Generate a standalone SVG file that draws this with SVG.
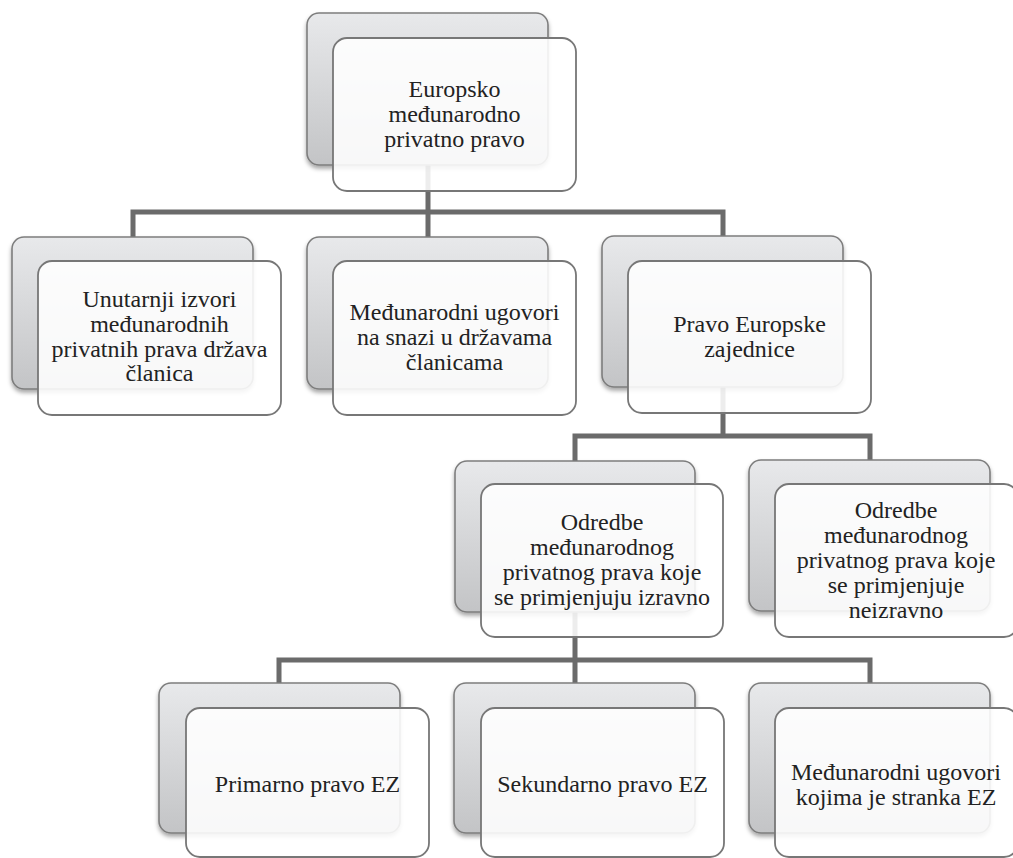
<svg xmlns="http://www.w3.org/2000/svg" width="1013" height="858" viewBox="0 0 1013 858">
<style>
.back{fill:url(#gBack);stroke:#7d7d7d;stroke-width:1.6;filter:url(#sh)}
.front{fill:#ffffff;fill-opacity:0.88;stroke:#777;stroke-width:1.8}
.t{font-size:24px;fill:#222;text-anchor:middle}
.c{fill:none;stroke:#6b6b6b;stroke-width:5;stroke-linejoin:miter;stroke-linecap:butt}
</style>
<defs>
<linearGradient id="gBack" x1="0" y1="0" x2="0" y2="1">
<stop offset="0" stop-color="#e8e9eb"/>
<stop offset="1" stop-color="#c3c4c6"/>
</linearGradient>
<filter id="sh" x="-10%" y="-10%" width="120%" height="130%">
<feDropShadow dx="0" dy="3" stdDeviation="2" flood-color="#000" flood-opacity="0.35"/>
</filter>
</defs>
<rect width="1013" height="858" fill="#fff"/>
<g id="connectors">
<path class="c" d="M428,165 V212 M133,237 V212 H723 V237 M428,212 V237"/>
<path class="c" d="M723,387 V436 M575,461 V436 H870 V460"/>
<path class="c" d="M575,612 V660 M279,683 V660 H870 V683 M575,660 V683"/>
</g>
<g id="nodes" font-family="Liberation Serif">
<g id="n1">
<rect class="back" x="307" y="13" width="241" height="152" rx="12"/>
<rect class="front" x="333" y="38" width="243" height="153" rx="14"/>
<text class="t" x="454.5" y="97">Europsko</text>
<text class="t" x="454.5" y="122">međunarodno</text>
<text class="t" x="454.5" y="147">privatno pravo</text>
</g>
<g id="n2">
<rect class="back" x="12" y="237" width="241" height="152" rx="12"/>
<rect class="front" x="38" y="261" width="243" height="154" rx="14"/>
<text class="t" x="159.5" y="307">Unutarnji izvori</text>
<text class="t" x="159.5" y="332">međunarodnih</text>
<text class="t" x="159.5" y="357">privatnih prava država</text>
<text class="t" x="159.5" y="381">članica</text>
</g>
<g id="n3">
<rect class="back" x="307" y="237" width="241" height="152" rx="12"/>
<rect class="front" x="333" y="261" width="243" height="154" rx="14"/>
<text class="t" x="454.5" y="320">Međunarodni ugovori</text>
<text class="t" x="454.5" y="345">na snazi u državama</text>
<text class="t" x="454.5" y="370">članicama</text>
</g>
<g id="n4">
<rect class="back" x="602" y="236" width="241" height="151" rx="12"/>
<rect class="front" x="628" y="261" width="243" height="152" rx="14"/>
<text class="t" x="749.5" y="332">Pravo Europske</text>
<text class="t" x="749.5" y="357">zajednice</text>
</g>
<g id="n5">
<rect class="back" x="455" y="461" width="240" height="151" rx="12"/>
<rect class="front" x="481" y="484" width="242" height="153" rx="14"/>
<text class="t" x="602" y="530">Odredbe</text>
<text class="t" x="602" y="555">međunarodnog</text>
<text class="t" x="602" y="580">privatnog prava koje</text>
<text class="t" x="602" y="605">se primjenjuju izravno</text>
</g>
<g id="n6">
<rect class="back" x="749" y="460" width="241" height="151" rx="12"/>
<rect class="front" x="775" y="484" width="243" height="153" rx="14"/>
<text class="t" x="896" y="518">Odredbe</text>
<text class="t" x="896" y="543">međunarodnog</text>
<text class="t" x="896" y="568">privatnog prava koje</text>
<text class="t" x="896" y="593">se primjenjuje</text>
<text class="t" x="896" y="618">neizravno</text>
</g>
<g id="n7">
<rect class="back" x="159" y="683" width="241" height="150" rx="12"/>
<rect class="front" x="186" y="708" width="243" height="149" rx="14"/>
<text class="t" x="307.5" y="792">Primarno pravo EZ</text>
</g>
<g id="n8">
<rect class="back" x="454" y="683" width="241" height="150" rx="12"/>
<rect class="front" x="481" y="708" width="243" height="149" rx="14"/>
<text class="t" x="602.5" y="792">Sekundarno pravo EZ</text>
</g>
<g id="n9">
<rect class="back" x="749" y="683" width="241" height="150" rx="12"/>
<rect class="front" x="775" y="708" width="243" height="149" rx="14"/>
<text class="t" x="896" y="780">Međunarodni ugovori</text>
<text class="t" x="896" y="805">kojima je stranka EZ</text>
</g>
</g>
</svg>
